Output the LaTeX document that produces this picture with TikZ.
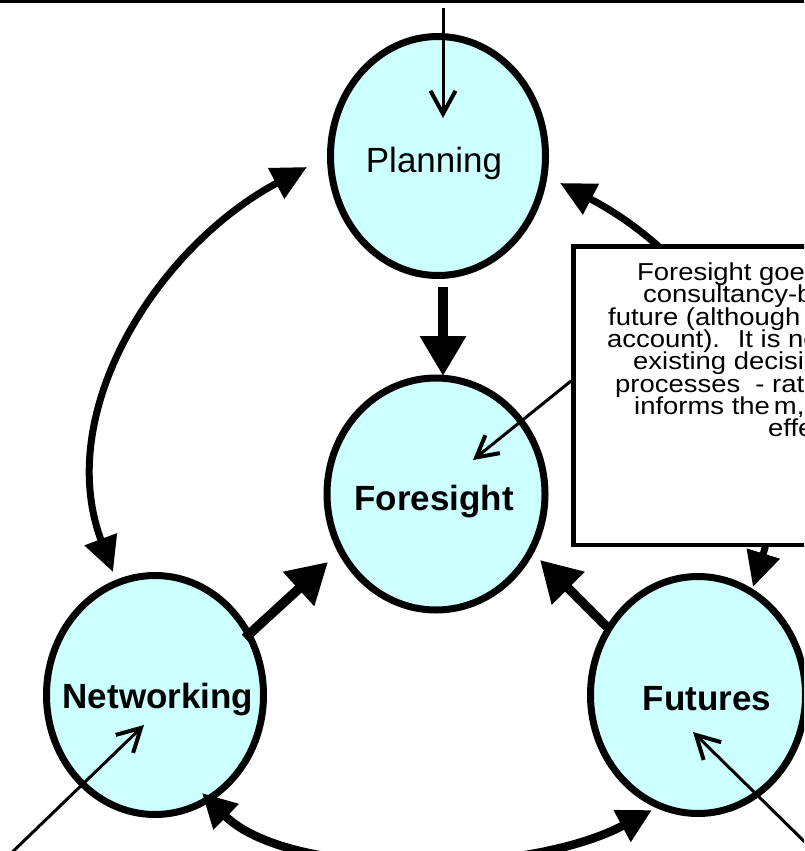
\documentclass[tikz,border=0pt]{standalone}
\usepackage{fontspec}
\setmainfont{Liberation Sans}
\newfontfamily\boxfont[FakeStretch=1.12]{Liberation Sans}
\usetikzlibrary{arrows.meta,shapes.geometric}
\definecolor{bubble}{RGB}{204,255,255}
\begin{document}
\begin{tikzpicture}[x=1pt,y=-1pt,
  bub/.style={ellipse, draw, fill=bubble, line width=7pt, inner sep=0pt},
  lbl/.style={anchor=base, inner sep=0pt, font=\fontsize{35}{40}\selectfont},
  blbl/.style={lbl, font=\fontsize{35}{40}\selectfont\bfseries},
  fat/.style={line width=9.5pt, -{Triangle[length=40pt,width=44pt]}},
  arcarrow/.style={line width=7pt, {Triangle[length=35pt,width=33pt]}-{Triangle[length=35pt,width=33pt]}},
  botarrow/.style={line width=8.5pt, {Triangle[length=34pt,width=34pt]}-{Triangle[length=34pt,width=34pt]}},
  thin/.style={line width=3pt, -{Straight Barb[length=23pt,width=25pt,line width=4pt]}},
  txt/.style={anchor=base west, inner sep=0pt, font=\boxfont\fontsize{24.5}{24.5}\selectfont}]
\useasboundingbox (0,0) rectangle (804,851);
\clip (0,0) rectangle (804,851);
\fill[white] (0,0) rectangle (804,851);
% top border line
\coordinate (tl) at (0,1.5);
\coordinate (tr) at (804,1.5);
\draw[line width=3pt] (tl) -- (tr);
% bubbles
\node[bub, minimum width=215pt, minimum height=239pt] (plan) at (438,156) {};
\node[bub, minimum width=218pt, minimum height=232pt] (fore) at (436,494) {};
\node[bub, minimum width=217pt, minimum height=239pt] (net) at (155,695) {};
\node[bub, minimum width=215pt, minimum height=237pt] (fut) at (698,695) {};
\node[lbl] (plant) at (434,172) {Planning};
\node[blbl] (foret) at (434,510) {Foresight};
\node[blbl] (nett) at (158,708) {Networking};
\node[blbl] (futt) at (707,710) {Futures};
% coordinates for connector ends
\coordinate (a1s) at (443,287);
\coordinate (a1e) at (443,376);
\coordinate (a2s) at (245,638);
\coordinate (a2e) at (328,562);
\coordinate (a3s) at (609,629);
\coordinate (a3e) at (540,560);
\coordinate (lan) at (113,572);
\coordinate (lap) at (307,167);
\coordinate (ran) at (753,587);
\coordinate (rap) at (560,183);
\coordinate (bn) at (202,793);
\coordinate (bf) at (652,810);
% thick arrows into Foresight
\draw[fat] (a1s) -- (a1e);
\draw[fat] (a2s) -- (a2e);
\draw[fat] (a3s) -- (a3e);
% curved double arrows
\draw[arcarrow] (lan) .. controls (53,412) and (157,247) .. (lap);
\draw[arcarrow] (ran) .. controls (803,425) and (722,268) .. (rap);
\draw[botarrow] (bn) .. controls (290,880) and (529,876) .. (bf);
% thin arrows
\coordinate (ts) at (443,8);
\coordinate (te) at (443,118);
\draw[thin] (ts) -- (te);
\coordinate (ns) at (2,862);
\coordinate (ne) at (144,725);
\draw[thin] (ns) -- (ne);
\coordinate (fs) at (815,852);
\coordinate (fe) at (693,732);
\draw[thin] (fs) -- (fe);
% text box
\node[draw, line width=4.5pt, fill=white, anchor=north west, minimum width=330pt, minimum height=298.5pt, inner sep=0pt] (box) at (571,244) {};
\node[txt] (l1) at (637,280) {Foresight goes};
\node[txt] (l2) at (643,302.7) {consultancy-b};
\node[txt] (l3) at (608,325) {future (although};
\node[txt] (l4) at (607,347.3) {account).~ It is no};
\node[txt] (l5) at (633,369.5) {existing decisio};
\node[txt] (l6) at (615,392) {processes~ - rat};
\node[txt] (l7) at (634,414.3) {informs the\hspace{4pt}m,};
\node[txt] (l8) at (768,436.7) {effe};
\coordinate (bs) at (571,381);
\coordinate (be) at (473,460);
\draw[thin, -{Straight Barb[length=21pt,width=23pt,line width=4pt]}] (bs) -- (be);
\end{tikzpicture}
\end{document}
